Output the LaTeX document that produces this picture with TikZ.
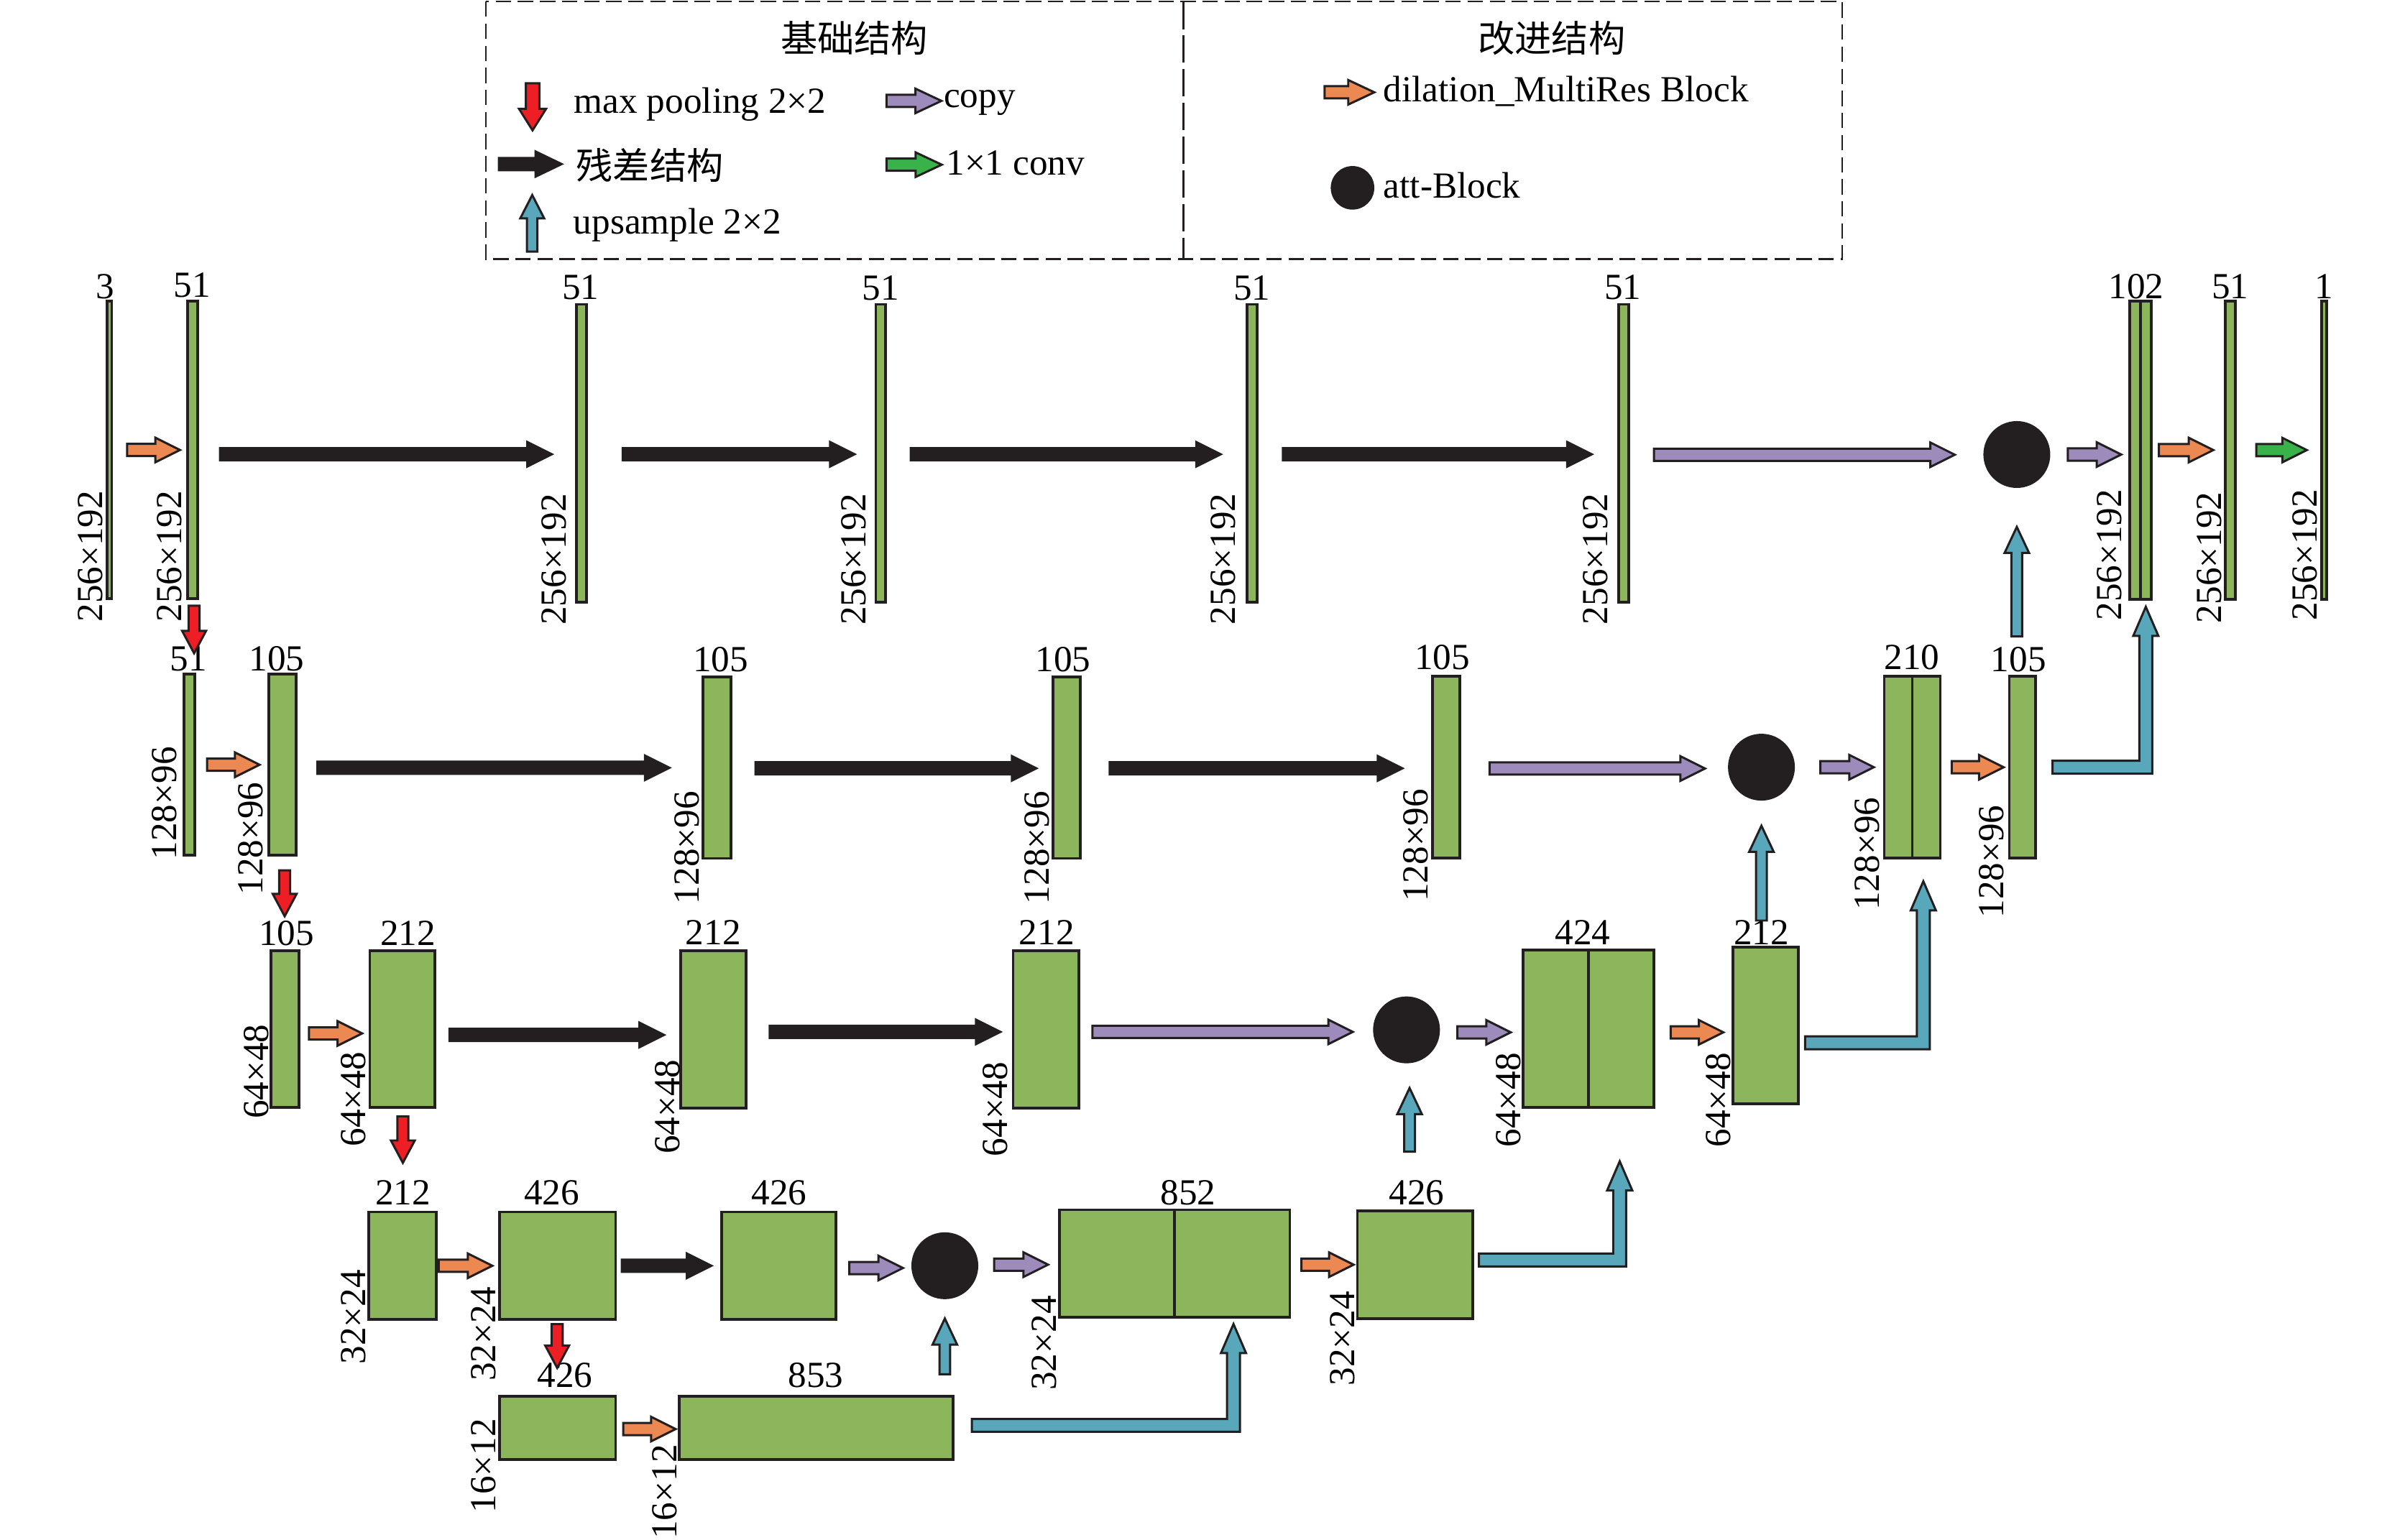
\documentclass[tikz,border=0pt]{standalone}
\usepackage{fontspec}
\setmainfont{Liberation Serif}
\newfontfamily\cjk{Noto Sans CJK SC}
\usetikzlibrary{calc,fit}
\definecolor{blkgreen}{RGB}{141,182,92}
\definecolor{arrorange}{RGB}{236,137,82}
\definecolor{arrpurple}{RGB}{157,139,188}
\definecolor{arrteal}{RGB}{88,167,186}
\definecolor{arrred}{RGB}{237,30,36}
\definecolor{arrgreen}{RGB}{58,178,74}
\definecolor{arrblack}{RGB}{35,31,32}
\tikzset{
  blk/.style={draw=arrblack, fill=blkgreen, line width=0.9pt, inner sep=0pt, outer sep=0pt},
  arr/.style={draw=arrblack, line width=0.7pt, line join=miter},
  num/.style={inner sep=0pt, anchor=base},
  dimlab/.style={inner sep=0pt, anchor=south west, rotate=90},
  att/.style={circle, fill=arrblack, minimum size=21.8pt, inner sep=0pt},
  legtxt/.style={inner sep=0pt, anchor=base west},
}
% fat arrows: color, start, end, shaft half width, head half width, head length
\newcommand\myR[6]{\path let \p1=#2, \p2=#3 in [arr, fill=#1]
  (\x1,{\y1+#4}) -- ({\x2-#6},{\y1+#4}) -- ({\x2-#6},{\y1+#5}) -- (\x2,\y1) --
  ({\x2-#6},{\y1-#5}) -- ({\x2-#6},{\y1-#4}) -- (\x1,{\y1-#4}) -- cycle;}
\newcommand\myU[6]{\path let \p1=#2, \p2=#3 in [arr, fill=#1]
  ({\x1-#4},\y1) -- ({\x1-#4},{\y2-#6}) -- ({\x1-#5},{\y2-#6}) -- (\x1,\y2) --
  ({\x1+#5},{\y2-#6}) -- ({\x1+#4},{\y2-#6}) -- ({\x1+#4},\y1) -- cycle;}
\newcommand\myD[6]{\path let \p1=#2, \p2=#3 in [arr, fill=#1]
  ({\x1-#4},\y1) -- ({\x1-#4},{\y2+#6}) -- ({\x1-#5},{\y2+#6}) -- (\x1,\y2) --
  ({\x1+#5},{\y2+#6}) -- ({\x1+#4},{\y2+#6}) -- ({\x1+#4},\y1) -- cycle;}
\newcommand\myRU[6]{\path let \p1=#2, \p2=#3 in [arr, fill=#1]
  (\x1,{\y1+#4}) -- ({\x2-#4},{\y1+#4}) -- ({\x2-#4},{\y2-#6}) -- ({\x2-#5},{\y2-#6}) --
  (\x2,\y2) -- ({\x2+#5},{\y2-#6}) -- ({\x2+#4},{\y2-#6}) -- ({\x2+#4},{\y1-#4}) --
  (\x1,{\y1-#4}) -- cycle;}
\newcommand\aR[3]{\myR{#1}{#2}{#3}{2pt}{4pt}{8pt}}
\newcommand\aU[3]{\myU{#1}{#2}{#3}{1.75pt}{4pt}{8.5pt}}
\newcommand\aD[3]{\myD{#1}{#2}{#3}{1.8pt}{3.9pt}{7.3pt}}
\newcommand\aRU[3]{\myRU{#1}{#2}{#3}{2.1pt}{4.1pt}{9.5pt}}

\begin{document}
\begin{tikzpicture}[x=0.5pt, y=-0.5pt, font=\fontsize{12pt}{14pt}\selectfont]
\useasboundingbox (0,0) rectangle (1568,1004);

% ---------------- legend ----------------
\draw[arrblack, line width=0.6pt, dash pattern=on 5pt off 2.2pt] (316.8,1) rectangle (1201,169);
\draw[arrblack, line width=0.6pt, dash pattern=on 9pt off 2pt] (771.6,1) -- (771.6,169);
\node (legA) at (557,25) {\cjk 基础结构};
\node (legB) at (1011.7,25) {\cjk 改进结构};
\myD{arrred}{(347.2,54.3)}{(347.2,85)}{2.2pt}{4.4pt}{7pt}
\node[legtxt] (legmax) at (374,74) {max pooling 2×2};
\myR{arrpurple}{(578,65.8)}{(613.8,65.8)}{2pt}{4pt}{8.5pt}
\node[legtxt] (legcopy) at (615,70) {copy};
\myR{arrblack}{(325.3,107)}{(366.2,107)}{2pt}{4.1pt}{8.5pt}
\node[inner sep=0pt, anchor=west] (legres) at (375.3,108) {\cjk 残差结构};
\myR{arrgreen}{(578,107.4)}{(614,107.4)}{2pt}{4pt}{8.5pt}
\node[legtxt] (legconv) at (616.5,114.2) {1×1 conv};
\myU{arrteal}{(347,164.1)}{(347,127.2)}{1.7pt}{3.9pt}{7.6pt}
\node[legtxt] (legup) at (373.5,152.5) {upsample 2×2};
\myR{arrorange}{(863.6,60.2)}{(896,60.2)}{2pt}{4pt}{8.5pt}
\node[legtxt] (legdil) at (901.6,66.5) {dilation\_MultiRes Block};
\node[att, minimum size=14.2pt] (legatt) at (881.8,122.5) {};
\node[legtxt] (legattt) at (901.6,129) {att-Block};

% ---------------- blocks ----------------
% row 1
\node[blk, fit={(69.8,196.5) (72.9,390.4)}] (b0) {};
\node[blk, fit={(122.3,196.5) (128.8,390.4)}] (b1) {};
\node[blk, fit={(375.8,198.5) (382.5,392.8)}] (b2) {};
\node[blk, fit={(571,198.5) (577.3,392.8)}] (b3) {};
\node[blk, fit={(812.9,198.5) (819.7,392.8)}] (b4) {};
\node[blk, fit={(1055.4,198.5) (1061.7,392.8)}] (b5) {};
\node[blk, fit={(1388.5,196.3) (1402.5,390.7)}] (b6) {};
\draw[arrblack, line width=0.9pt] (b6.north) -- (b6.south);
\node[blk, fit={(1450.8,196.3) (1457.4,390.7)}] (b7) {};
\node[blk, fit={(1513.6,196.3) (1516.9,390.7)}] (b8) {};
% row 2
\node[blk, fit={(120,439.6) (127,557.8)}] (c0) {};
\node[blk, fit={(175.2,439.6) (193,557.8)}] (c1) {};
\node[blk, fit={(458.3,441.3) (476.4,559.8)}] (c2) {};
\node[blk, fit={(686.5,441.3) (704.3,559.8)}] (c3) {};
\node[blk, fit={(934,441) (951.7,559.7)}] (c4) {};
\node[blk, fit={(1228.5,441) (1265,559.7)}] (c5) {};
\draw[arrblack, line width=0.9pt] (c5.north) -- (c5.south);
\node[blk, fit={(1310,441) (1327.2,559.7)}] (c6) {};
% row 3
\node[blk, fit={(176.8,620) (194.8,722)}] (d0) {};
\node[blk, fit={(241.1,620) (283.6,722)}] (d1) {};
\node[blk, fit={(443.6,619.8) (486.3,722.6)}] (d2) {};
\node[blk, fit={(660.5,619.8) (703.3,722.6)}] (d3) {};
\node[blk, fit={(993,619.5) (1078.2,722.3)}] (d4) {};
\draw[arrblack, line width=0.9pt] (d4.north) -- (d4.south);
\node[blk, fit={(1129.9,617.8) (1172.4,719.8)}] (d5) {};
% row 4
\node[blk, fit={(240.3,790.3) (284.5,860.5)}] (e0) {};
\node[blk, fit={(325.7,790.3) (401.4,860.5)}] (e1) {};
\node[blk, fit={(470.4,790.3) (545.1,860.5)}] (e2) {};
\node[blk, fit={(690.9,788.9) (840.9,859.1)}] (e3) {};
\draw[arrblack, line width=0.9pt] (e3.north) -- (e3.south);
\node[blk, fit={(885,789.6) (960.2,859.8)}] (e4) {};
% row 5
\node[blk, fit={(325.7,910.4) (401.4,951.6)}] (f0) {};
\node[blk, fit={(443,910.4) (621.3,951.6)}] (f1) {};

% attention blocks
\node[att] (att1) at (1314.9,296.4) {};
\node[att] (att2) at (1148.4,500.3) {};
\node[att] (att3) at (917,671.6) {};
\node[att] (att4) at (616,825.4) {};

% ---------------- channel numbers ----------------
\node[num] (nb0) at (68.5,194.5) {3};
\node[num] (nb1) at (125.4,193.7) {51};
\node[num] (nb2) at (378.6,195) {51};
\node[num] (nb3) at (574.3,195.7) {51};
\node[num] (nb4) at (816.3,195.7) {51};
\node[num] (nb5) at (1058,195.3) {51};
\node[num] (nb6) at (1392.7,194.6) {102};
\node[num] (nb7) at (1454,194.6) {51};
\node[num] (nb8) at (1515,194.6) {1};
\node[num] (nc0) at (123,437.6) {51};
\node[num] (nc1) at (180.5,437.6) {105};
\node[num] (nc2) at (469.8,438.1) {105};
\node[num] (nc3) at (693,438.1) {105};
\node[num] (nc4) at (940.3,436.6) {105};
\node[num] (nc5) at (1246.5,436.6) {210};
\node[num] (nc6) at (1316,437.9) {105};
\node[num] (nd0) at (186.8,616.4) {105};
\node[num] (nd1) at (266,616.4) {212};
\node[num] (nd2) at (465,616.2) {212};
\node[num] (nd3) at (682.4,616.2) {212};
\node[num] (nd4) at (1031.9,615.9) {424};
\node[num] (nd5) at (1148.4,615.9) {212};
\node[num] (ne0) at (262.7,785.5) {212};
\node[num] (ne1) at (359.7,785.5) {426};
\node[num] (ne2) at (508,785.5) {426};
\node[num] (ne3) at (774.7,785.5) {852};
\node[num] (ne4) at (923.6,785.5) {426};
\node[num] (nf0) at (368.3,904.8) {426};
\node[num] (nf1) at (531.9,904.8) {853};

% ---------------- size labels ----------------
\node[dimlab] (lb0) at (67.4,406) {256×192};
\node[dimlab] (lb1) at (118.8,406) {256×192};
\node[dimlab] (lb2) at (369.7,408) {256×192};
\node[dimlab] (lb3) at (565,408) {256×192};
\node[dimlab] (lb4) at (806,407.7) {256×192};
\node[dimlab] (lb5) at (1048.7,407.7) {256×192};
\node[dimlab] (lb6) at (1383.7,405) {256×192};
\node[dimlab] (lb7) at (1449,406.7) {256×192};
\node[dimlab] (lb8) at (1511.3,405) {256×192};
\node[dimlab] (lc0) at (115.5,561) {128×96};
\node[dimlab] (lc1) at (172,584) {128×96};
\node[dimlab] (lc2) at (456.4,590) {128×96};
\node[dimlab] (lc3) at (684.5,590) {128×96};
\node[dimlab] (lc4) at (931.6,588.4) {128×96};
\node[dimlab] (lc5) at (1226,594) {128×96};
\node[dimlab] (lc6) at (1307,599) {128×96};
\node[dimlab] (ld0) at (175.5,730) {64×48};
\node[dimlab] (ld1) at (239,748) {64×48};
\node[dimlab] (ld2) at (443.6,752.9) {64×48};
\node[dimlab] (ld3) at (657.3,754.5) {64×48};
\node[dimlab] (ld4) at (992,748.5) {64×48};
\node[dimlab] (ld5) at (1129,748.5) {64×48};
\node[dimlab] (le0) at (238.8,890) {32×24};
\node[dimlab] (le1) at (323.6,901) {32×24};
\node[dimlab] (le3) at (689.3,907) {32×24};
\node[dimlab] (le4) at (883.8,904) {32×24};
\node[dimlab] (lf0) at (323.6,987) {16×12};
\node[dimlab] (lf1) at (442,1004) {16×12};

% ---------------- connectors ----------------
% row 1
\aR{arrorange}{($(b0.east)+(10,0)$)}{($(b1.west)+(-5,0)$)}
\aR{arrblack}{($(b1.east)+(14.6,2.8)$)}{($(b2.west)+(-16,0)$)}
\aR{arrblack}{($(b2.east)+(23.5,0.6)$)}{($(b3.west)+(-13.8,0)$)}
\aR{arrblack}{($(b3.east)+(16.5,0.6)$)}{($(b4.west)+(-17,0)$)}
\aR{arrblack}{($(b4.east)+(16.7,0.6)$)}{($(b5.west)+(-17.6,0)$)}
\aR{arrpurple}{($(b5.east)+(16.6,0.9)$)}{($(att1.west)+(-18.2,0)$)}
\aR{arrpurple}{($(att1.east)+(11,0)$)}{($(b6.west)+(-5.5,0)$)}
\aR{arrorange}{($(b6.east)+(5,0)$)}{($(b7.west)+(-7.8,0)$)}
\aR{arrgreen}{($(b7.east)+(13.6,0)$)}{($(b8.west)+(-9.6,0)$)}
\aU{arrteal}{($(att1.center |- c6.north)+(0,-26)$)}{($(att1.south)+(0,25)$)}
\aRU{arrteal}{($(c6.east)+(11,0)$)}{($(b6.south)+(3.5,5)$)}
% row 2
\aD{arrred}{($(b1.south)+(1,4.6)$)}{($(b1.south |- c0.north)+(1,-13.6)$)}
\aR{arrorange}{($(c0.east)+(8,0)$)}{($(c1.west)+(-6,0)$)}
\aR{arrblack}{($(c1.east)+(14,2)$)}{($(c2.west)+(-21.8,0)$)}
\aR{arrblack}{($(c2.east)+(16.2,0.5)$)}{($(c3.west)+(-10.8,0)$)}
\aR{arrblack}{($(c3.east)+(19.2,0.5)$)}{($(c4.west)+(-19.7,0)$)}
\aR{arrpurple}{($(c4.east)+(19.4,0.8)$)}{($(att2.west)+(-14.6,0)$)}
\aR{arrpurple}{($(att2.east)+(16.2,0)$)}{($(c5.west)+(-6.8,0)$)}
\aR{arrorange}{($(c5.east)+(7.5,0)$)}{($(c6.west)+(-3.7,0)$)}
\aU{arrteal}{($(att2.center |- d5.north)+(0,-17.5)$)}{($(att2.south)+(0,16)$)}
\aRU{arrteal}{($(d5.east)+(4.5,11.2)$)}{($(c5.south)+(7.2,15)$)}
% row 3
\aD{arrred}{($(c1.south)+(1.5,9.8)$)}{($(c1.south |- d0.north)+(1.5,-22.5)$)}
\aR{arrorange}{($(d0.east)+(6.7,2.9)$)}{($(d1.west)+(-5,0)$)}
\aR{arrblack}{($(d1.east)+(9.4,3.9)$)}{($(d2.west)+(-10.7,0)$)}
\aR{arrblack}{($(d2.east)+(15.5,1.7)$)}{($(d3.west)+(-8.2,0)$)}
\aR{arrpurple}{($(d3.east)+(8.9,1.7)$)}{($(att3.west)+(-12.8,0)$)}
\aR{arrpurple}{($(att3.east)+(11,1.6)$)}{($(d4.west)+(-8,0)$)}
\aR{arrorange}{($(d4.east)+(11,2.3)$)}{($(d5.west)+(-6.3,0)$)}
\aU{arrteal}{($(att3.center |- e4.north)+(2,-38.6)$)}{($(att3.south)+(2,15.7)$)}
\aRU{arrteal}{($(e4.east)+(4,-3)$)}{($(d4.south)+(20.4,35)$)}
% row 4
\aD{arrred}{($(d1.south)+(0.3,6)$)}{($(d1.south |- e0.north)+(0.3,-32)$)}
\aR{arrorange}{($(e0.east)+(1.5,0)$)}{($(e1.west)+(-4.7,0)$)}
\aR{arrblack}{($(e1.east)+(4,0)$)}{($(e2.west)+(-6.6,0)$)}
\aR{arrpurple}{($(e2.east)+(8.6,1.5)$)}{($(att4.west)+(-5.1,0)$)}
\aR{arrpurple}{($(att4.east)+(10,-0.7)$)}{($(e3.west)+(-7.6,0)$)}
\aR{arrorange}{($(e3.east)+(7.6,0.7)$)}{($(e4.west)+(-2.5,0)$)}
\aU{arrteal}{($(att4.center |- f1.north)+(0,-14.2)$)}{($(att4.south)+(0,12.2)$)}
\aRU{arrteal}{($(f1.east)+(12.3,-1.5)$)}{($(e3.south)+(38.3,4.3)$)}
% row 5
\aD{arrred}{($(e1.south)+(-0.3,3)$)}{($(e1.south |- f0.north)+(-0.3,-18.4)$)}
\aR{arrorange}{($(f0.east)+(5,0.9)$)}{($(f1.west)+(-2.5,0)$)}
\end{tikzpicture}
\end{document}
